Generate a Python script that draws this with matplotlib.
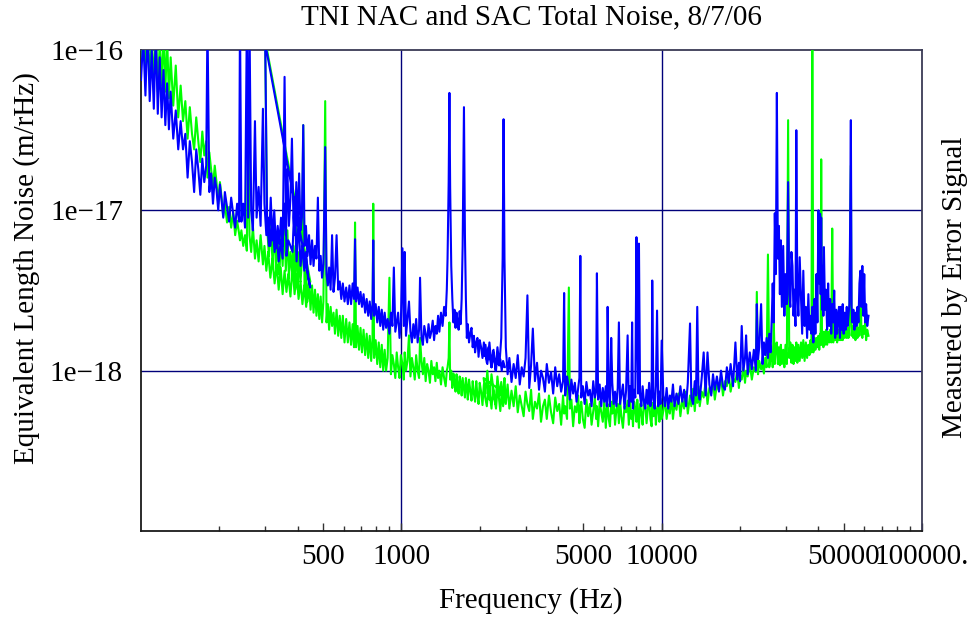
import numpy as np
import matplotlib
matplotlib.use("Agg")
import matplotlib.pyplot as plt
from matplotlib.ticker import FixedLocator, FixedFormatter, NullFormatter

# values are in units of 1e-18 m/rHz
UNIT = 1e-18

# band 1 : 100 Hz .. 450 Hz
f_band1 = [100, 102, 104, 106, 108, 110, 112, 114, 116, 118,
           120, 122, 124, 126, 128, 130, 133, 136, 139, 142,
           145, 148, 151, 154, 157, 160, 163, 166, 169, 172,
           175, 178, 180, 183, 186, 189, 192, 195, 198, 201,
           204, 207, 210, 214, 218, 222, 226, 230, 234, 238,
           240, 243, 247, 251, 255, 258, 261, 265, 269, 274,
           278, 283, 288, 294, 298, 303, 308, 314, 320, 326,
           332, 338, 344, 350, 356, 362, 368, 375, 382, 389,
           396, 403, 410, 417, 424, 431, 438, 447]
green_band1 = [90, 140, 70, 150, 65, 120, 60, 140, 55, 110,
               60, 130, 55, 120, 50, 90, 45, 80, 38, 60,
               36, 48, 28, 44, 30, 24, 38, 27, 20, 31,
               22, 27, 16, 23, 18, 14, 19, 15, 11, 15,
               12, 9.2, 11, 8.4, 10.5, 7.8, 9.8, 7, 8.6, 7.2,
               6.5, 7.5, 6, 7, 5.6, 55, 7, 5.5, 8, 5,
               6.5, 4.8, 7, 4.6, 6, 4.2, 5.5, 3.8, 5, 3.5,
               4.6, 3.2, 4.4, 3, 4.2, 3.1, 4, 2.9, 4.5, 3,
               4, 2.8, 3.6, 2.6, 3.4, 2.5, 3.2, 3.6]
blue_band1 = [65, 120, 52, 140, 48, 100, 43, 130, 40, 90,
              38, 75, 34, 62, 32, 55, 28, 42, 24, 36,
              24, 30, 16, 27, 20, 13, 24, 18, 12.5, 21,
              15, 19, 150, 13, 17, 11, 16, 13.5, 10, 14.5,
              11.5, 9, 13, 10.5, 8.5, 12, 9.5, 7.8, 11, 8.5,
              160, 8.5, 11, 7.8, 150, 9, 160, 10, 7.5, 36,
              9, 14, 8, 43, 11, 7, 9, 6, 8.5, 5.5,
              7.2, 4.8, 6.5, 5, 68, 5.2, 6.5, 6, 5.5, 12,
              4.8, 9, 4.5, 6, 4.2, 5.5, 3.8, 3.3]

# band 2 : 300 Hz .. 2.5 kHz
f_band2 = [300, 305, 310, 315, 320, 325, 330, 335, 340, 345,
           350, 355, 360, 365, 370, 375, 380, 385, 390, 395,
           400, 405, 410, 415, 420, 425, 430, 436, 442, 448,
           454, 460, 466, 472, 478, 484, 490, 496, 502, 510,
           516, 522, 528, 535, 542, 549, 556, 564, 572, 580,
           588, 596, 605, 614, 623, 632, 641, 650, 658, 664,
           670, 679, 688, 697, 706, 716, 726, 736, 746, 756,
           766, 775, 780, 786, 797, 808, 819, 830, 841, 852,
           863, 874, 886, 900, 912, 924, 936, 948, 960, 972,
           984, 996, 1010, 1022, 1030, 1042, 1056, 1070, 1084, 1098,
           1112, 1126, 1140, 1155, 1170, 1180, 1195, 1210, 1225, 1240,
           1256, 1272, 1288, 1304, 1320, 1336, 1352, 1368, 1384, 1400,
           1420, 1440, 1460, 1480, 1495, 1505, 1520, 1530, 1540, 1555,
           1570, 1585, 1600, 1615, 1630, 1645, 1660, 1675, 1690, 1705,
           1720, 1740, 1755, 1770, 1785, 1800, 1820, 1840, 1860, 1880,
           1900, 1920, 1940, 1960, 1980, 2000, 2025, 2050, 2075, 2100,
           2130, 2160, 2190, 2220, 2250, 2280, 2310, 2340, 2370, 2400,
           2430, 2460, 2500]
green_band2 = [115, 8, 5.2, 9, 4.6, 7.5, 4.4, 6.5, 4, 7,
               4.5, 9, 4.2, 7.5, 3.8, 5.5, 4.2, 6, 3.5, 8,
               3.2, 5.5, 3.6, 4.8, 34, 3.0, 4.2, 2.7, 3.6, 2.4,
               3.4, 2.3, 3.2, 2.2, 3.0, 2.1, 2.9, 2.0, 2.7, 48,
               2.0, 2.6, 1.8, 2.5, 1.9, 2.3, 1.7, 2.4, 1.65, 2.2,
               1.6, 2.2, 1.5, 2.1, 1.5, 2.0, 1.45, 1.95, 1.4, 8.4,
               1.4, 1.9, 1.35, 1.85, 1.3, 1.8, 1.25, 1.7, 1.2, 1.65,
               1.15, 1.6, 11, 1.2, 1.55, 1.1, 1.5, 1.05, 1.45, 1.0,
               1.35, 1.0, 1.2, 3.8, 0.95, 1.25, 1.1, 0.9, 1.3, 1.05,
               0.9, 1.25, 1.1, 0.88, 1.3, 1.0, 1.15, 1.66, 0.92, 1.2,
               1.05, 0.88, 1.25, 1.0, 0.9, 1.6, 1.15, 0.95, 1.2, 0.86,
               1.1, 1.0, 0.84, 1.15, 0.95, 1.05, 0.86, 1.12, 0.9, 1.0,
               0.82, 1.05, 0.9, 0.8, 1.0, 1.05, 1.2, 2.0, 0.88, 1.0,
               0.78, 0.96, 0.85, 0.74, 0.95, 0.8, 0.72, 0.92, 0.84, 0.7,
               0.9, 0.76, 0.68, 0.9, 0.8, 0.66, 0.88, 0.75, 0.65, 0.86,
               0.72, 0.64, 0.86, 0.7, 0.62, 0.84, 0.74, 0.61, 0.82, 0.68,
               0.6, 0.8, 0.7, 0.58, 0.78, 0.66, 0.58, 0.76, 0.68, 0.56,
               0.74, 0.6, 0.72]
blue_band2 = [110, 9, 6, 12, 6.5, 10, 5.8, 8, 6.2, 9,
              6, 11, 7, 18, 8, 12, 28, 9, 7, 15,
              8, 17, 7.5, 9, 34, 6, 8, 5.2, 7, 4.6,
              6.5, 4.5, 6, 5, 12, 4.2, 5.2, 3.8, 4.6, 24.8,
              4, 3.4, 4.4, 3.2, 7, 3.1, 3.8, 7, 3.2, 3.6,
              2.8, 3.5, 2.7, 3.3, 2.6, 3.4, 2.6, 3.5, 2.8, 6.6,
              2.7, 3.3, 2.6, 3.1, 2.5, 3.0, 2.3, 2.8, 2.2, 2.7,
              2.1, 2.6, 6.5, 2.2, 2.6, 2.0, 2.5, 1.9, 2.4, 1.8,
              2.3, 1.85, 2.1, 1.7, 2.3, 1.9, 4.4, 1.75, 2.0, 2.3,
              1.6, 2.0, 5.8, 1.9, 5.5, 1.65, 2.1, 2.7, 1.75, 1.5,
              1.95, 1.6, 2.1, 1.5, 1.8, 3.8, 1.6, 1.45, 1.9, 1.7,
              1.5, 1.95, 1.6, 1.75, 2.05, 1.55, 1.9, 1.7, 2.2, 1.75,
              2.3, 1.9, 2.5, 2.2, 3.2, 5, 15, 54, 14, 4.5,
              2.8, 2.0, 2.4, 1.85, 2.3, 2.0, 1.8, 2.35, 1.95, 2.8,
              6, 44, 7, 2.8, 1.6, 1.95, 1.5, 1.7, 1.85, 1.4,
              1.65, 1.3, 1.5, 1.6, 1.22, 1.55, 1.4, 1.2, 1.5, 1.3,
              1.12, 1.4, 1.2, 1.05, 1.32, 1.15, 1.0, 1.28, 1.08, 1.18,
              1.0, 1.15, 1.05]

# band 3 : 2 kHz .. 62 kHz
f_band3 = [2070, 2105, 2140, 2180, 2220, 2260, 2300, 2340, 2380, 2420,
           2450, 2470, 2490, 2520, 2560, 2600, 2650, 2700, 2750, 2800,
           2850, 2900, 2950, 3000, 3050, 3100, 3150, 3200, 3260, 3320,
           3380, 3440, 3500, 3560, 3620, 3690, 3760, 3830, 3900, 3970,
           4040, 4110, 4180, 4220, 4260, 4330, 4400, 4440, 4500, 4570,
           4640, 4710, 4780, 4830, 4870, 4910, 4980, 5060, 5140, 5220,
           5300, 5380, 5460, 5540, 5600, 5640, 5700, 5780, 5860, 5940,
           6020, 6100, 6160, 6200, 6260, 6330, 6400, 6460, 6540, 6620,
           6700, 6780, 6850, 6920, 7000, 7100, 7200, 7300, 7400, 7480,
           7560, 7640, 7700, 7760, 7840, 7920, 8000, 8060, 8120, 8180,
           8260, 8350, 8450, 8550, 8650, 8750, 8850, 8950, 9050, 9150,
           9200, 9300, 9400, 9500, 9600, 9700, 9800, 9900, 10000, 10150,
           10300, 10450, 10600, 10750, 10900, 11050, 11200, 11400, 11600, 11800,
           12000, 12200, 12400, 12600, 12850, 13000, 13200, 13400, 13550, 13700,
           13850, 14000, 14250, 14500, 14750, 15000, 15250, 15500, 15750, 16000,
           16300, 16600, 16900, 17200, 17500, 17800, 18100, 18400, 18800, 19200,
           19500, 19800, 20000, 20300, 20600, 20900, 21100, 21400, 21800, 22200,
           22600, 23000, 23200, 23450, 23700, 24100, 24400, 24700, 25000, 25300,
           25600, 25900, 26200, 26500, 26700, 26950, 27200, 27450, 27700, 27950,
           28200, 28450, 28700, 28950, 29300, 29600, 29900, 30250, 30600, 30900,
           31200, 31500, 31800, 32100, 32400, 32650, 32900, 33200, 33500, 33900,
           34300, 34650, 35000, 35400, 35800, 36200, 36600, 36950, 37300, 37600,
           37900, 38250, 38600, 38950, 39300, 39650, 40000, 40300, 40600, 40800,
           41000, 41300, 41600, 41800, 42000, 42400, 42800, 43200, 43600, 44000,
           44400, 44800, 45200, 45600, 46000, 46400, 46800, 47200, 47600, 48000,
           48400, 48800, 49200, 49600, 50000, 50500, 50900, 51400, 51800, 52200,
           52600, 52950, 53300, 53650, 54000, 54500, 55000, 55500, 56000, 56500,
           57000, 57500, 58000, 58500, 59000, 59500, 60000, 60500, 61000, 61600,
           62300]
green_band3 = [0.9, 0.72, 1.0, 0.66, 0.95, 0.75, 0.62, 0.92, 0.7, 0.85,
               0.64, 0.78, 0.9, 0.62, 0.82, 0.58, 0.75, 0.6, 0.8, 0.55,
               0.7, 0.6, 0.52, 0.74, 0.62, 0.56, 0.76, 0.5, 0.64, 0.58,
               0.72, 0.48, 0.6, 0.66, 0.5, 0.7, 0.55, 0.47, 0.68, 0.56,
               0.62, 0.46, 0.7, 0.54, 0.6, 0.5, 3.3, 0.58, 0.66, 0.45,
               0.6, 0.55, 0.7, 0.47, 0.58, 0.64, 0.5, 0.44, 0.66, 0.52,
               0.62, 0.46, 0.56, 0.68, 0.5, 0.6, 0.45, 0.64, 0.55, 0.48,
               0.66, 0.44, 0.58, 0.62, 0.5, 0.45, 0.64, 0.54, 0.68, 0.46,
               0.57, 0.62, 0.47, 0.66, 0.52, 0.44, 0.6, 0.55, 0.65, 0.46,
               0.68, 0.5, 0.56, 0.45, 0.64, 0.58, 0.48, 0.66, 0.52, 0.44,
               0.62, 0.55, 0.46, 0.66, 0.6, 0.47, 0.58, 0.68, 0.5, 0.45,
               0.63, 0.52, 0.66, 0.46, 0.58, 0.62, 0.48, 0.67, 0.5, 0.56,
               0.68, 0.5, 0.6, 0.54, 0.7, 0.5, 0.62, 0.57, 0.72, 0.52,
               0.66, 0.58, 0.74, 0.54, 0.7, 0.6, 0.77, 0.56, 0.72, 0.63,
               0.8, 0.6, 0.74, 0.68, 0.85, 0.62, 0.78, 0.72, 0.88, 0.66,
               0.82, 0.75, 0.92, 0.7, 0.86, 0.8, 0.96, 0.74, 0.9, 0.85,
               1.0, 0.78, 0.94, 0.88, 1.05, 0.84, 1.0, 0.92, 1.1, 0.88,
               1.05, 0.98, 3.1, 0.95, 1.15, 1.02, 1.1, 0.96, 1.2, 1.05,
               5.3, 1.05, 1.2, 1.3, 1.05, 2.0, 1.1, 1.45, 1.5, 1.1,
               1.4, 1.08, 1.45, 1.1, 1.35, 1.05, 1.45, 1.1, 36.5, 1.2,
               1.5, 1.12, 1.45, 1.1, 1.4, 1.15, 1.5, 1.12, 1.45, 1.15,
               1.5, 1.2, 1.55, 1.15, 1.5, 1.2, 1.45, 1.25, 1.55, 1.3,
               150, 1.3, 1.6, 1.35, 1.6, 1.4, 1.65, 1.35, 1.7, 1.45,
               20.8, 1.45, 1.7, 1.4, 1.75, 1.45, 1.8, 1.45, 1.75, 1.5,
               1.8, 1.5, 7.7, 1.5, 1.8, 1.55, 1.85, 1.5, 1.8, 1.55,
               1.85, 1.55, 1.9, 1.55, 1.85, 1.6, 1.9, 1.6, 1.85, 1.6,
               1.9, 6, 19, 1.65, 1.9, 1.6, 1.85, 1.55, 1.9, 1.6,
               1.85, 1.65, 3.9, 1.8, 1.6, 1.9, 1.7, 2.0, 1.55, 1.8,
               1.65]
blue_band3 = [1.25, 1.45, 1.1, 1.5, 1.05, 1.35, 1.0, 1.4, 1.08, 1.6,
              5, 37, 5, 1.4, 0.95, 1.2, 0.85, 1.1, 0.9, 1.25,
              0.82, 1.05, 0.92, 1.2, 2.95, 0.78, 1.08, 1.83, 0.86, 1.12,
              0.76, 1.0, 0.9, 0.74, 1.1, 0.84, 0.98, 0.72, 1.05, 0.8,
              0.95, 0.74, 0.86, 3.05, 0.7, 0.92, 0.78, 0.66, 0.88, 0.72,
              0.84, 0.64, 0.78, 0.9, 5.2, 0.68, 0.8, 0.62, 0.85, 0.7,
              0.76, 0.6, 0.86, 0.68, 0.74, 4.05, 0.66, 0.82, 0.6, 0.78,
              0.64, 0.8, 0.6, 2.5, 0.72, 0.6, 1.6, 0.84, 0.62, 0.74,
              0.6, 0.78, 2.0, 0.62, 0.7, 0.82, 0.58, 0.75, 1.66, 0.6,
              0.8, 0.64, 2.0, 0.58, 0.76, 0.68, 6.8, 1.8, 0.72, 6.2,
              0.7, 0.6, 0.8, 0.64, 0.58, 0.76, 0.62, 0.84, 0.6, 0.7,
              3.65, 0.66, 0.58, 0.8, 2.37, 0.6, 0.74, 0.62, 1.54, 0.7,
              0.6, 0.78, 0.58, 0.7, 0.64, 0.82, 0.6, 0.72, 0.62, 0.8,
              0.64, 0.76, 0.6, 0.84, 1.97, 0.68, 0.62, 0.86, 0.7, 2.5,
              0.72, 0.66, 0.9, 1.3, 0.7, 1.3, 0.82, 0.7, 0.95, 0.76,
              0.92, 0.74, 1.0, 0.8, 0.76, 1.05, 0.84, 1.1, 0.8, 1.5,
              0.88, 1.12, 0.86, 1.9, 1.0, 1.2, 1.66, 0.95, 1.3, 1.02,
              1.35, 1.0, 2.6, 1.18, 1.4, 2.6, 1.1, 1.5, 1.25, 1.6,
              1.2, 1.7, 1.3, 2.2, 3.5, 2.0, 9.6, 4, 54, 5,
              8, 3, 6.5, 2.5, 6, 2.2, 4, 2.6, 15, 3,
              2.5, 5.5, 4.5, 2.2, 3.2, 1.9, 31.6, 3, 2.2, 5.1,
              2.8, 1.7, 4.2, 1.9, 2.5, 1.6, 3, 1.8, 2.2, 1.7,
              2.5, 1.5, 2.8, 1.7, 4, 2, 10, 3.5, 9.5, 3,
              9, 2.4, 4.5, 2.2, 5.9, 2.4, 3.2, 1.8, 3.5, 1.9,
              2.8, 1.7, 2.6, 2.0, 3.16, 1.6, 2.4, 1.7, 2.2, 2.5,
              1.6, 2.5, 1.8, 2.6, 1.7, 2.3, 1.8, 2.5, 1.9, 2.2,
              2.6, 8, 36.5, 2.5, 2.0, 2.4, 1.8, 2.3, 1.9, 2.5,
              2.0, 3.5, 4.2, 2.5, 4.5, 2.2, 4.0, 2.0, 2.6, 1.9,
              2.2]

x_major = [500, 1000, 5000, 10000, 50000, 100000]
x_major_labels = ["500", "1000", "5000", "10000", "50000", "100000."]
y_major = [1e-16, 1e-17, 1e-18]
y_major_labels = ["1e\u221216", "1e\u221217", "1e\u221218"]

GREEN = "#00ff00"
BLUE = "#0000ff"
GRID = "#00007a"
FS = 21

plt.rcParams["font.family"] = ["Liberation Serif", "DejaVu Serif"]

# bands are stored in acquisition order, one after the other
freq = np.concatenate([f_band1, f_band2, f_band3])
green = np.concatenate([green_band1, green_band2, green_band3]) * UNIT
blue = np.concatenate([blue_band1, blue_band2, blue_band3]) * UNIT

fig = plt.figure(figsize=(9.71, 6.19), dpi=100)
ax = fig.add_axes([141 / 971, 1 - 531 / 619, (922 - 141) / 971, (531 - 50) / 619])

ax.plot(freq, green, color=GREEN, lw=1.5, zorder=3)
ax.plot(freq, blue, color=BLUE, lw=1.5, zorder=4)

ax.set_xscale("log")
ax.set_yscale("log")
ax.set_xlim(100, 100000)
ax.set_ylim(1e-19, 1e-16)

for xv in (1000, 10000):
    ax.axvline(xv, color=GRID, lw=1.0, zorder=1)
for yv in (1e-17, 1e-18):
    ax.axhline(yv, color=GRID, lw=1.0, zorder=1)

ax.xaxis.set_major_locator(FixedLocator(x_major))
ax.xaxis.set_major_formatter(FixedFormatter(x_major_labels))
minor = [m * d for d in (100, 1000, 10000) for m in range(2, 10)]
minor = [v for v in minor if v not in x_major]
ax.xaxis.set_minor_locator(FixedLocator(minor))
ax.xaxis.set_minor_formatter(NullFormatter())
ax.tick_params(axis="x", which="major", direction="in", length=6, width=1,
               color="#333333", labelsize=FS, pad=9)
ax.tick_params(axis="x", which="minor", direction="in", length=3.5, width=1,
               color="#333333")

ax.yaxis.set_major_locator(FixedLocator(y_major))
ax.yaxis.set_major_formatter(FixedFormatter(y_major_labels))
ax.yaxis.set_minor_locator(FixedLocator([]))
ax.tick_params(axis="y", which="major", length=0, labelsize=FS, pad=13)

for side in ("left", "bottom"):
    ax.spines[side].set_color("#1a1a1a")
    ax.spines[side].set_linewidth(1.3)
for side in ("top", "right"):
    ax.spines[side].set_color("#3a3a55")
    ax.spines[side].set_linewidth(1.3)

fig.text(531 / 971, 1 - 17 / 619, "TNI NAC and SAC Total Noise, 8/7/06",
         ha="center", va="center", fontsize=FS)
fig.text(531 / 971, 1 - 601 / 619, "Frequency (Hz)",
         ha="center", va="center", fontsize=FS)
fig.text(27 / 971, 1 - 268 / 619, "Equivalent Length Noise (m/rHz)",
         ha="center", va="center", rotation=90, fontsize=FS)
fig.text(955 / 971, 1 - 287 / 619, "Measured by Error Signal",
         ha="center", va="center", rotation=90, fontsize=FS)

fig.savefig("out.png", dpi=100, facecolor="white")
